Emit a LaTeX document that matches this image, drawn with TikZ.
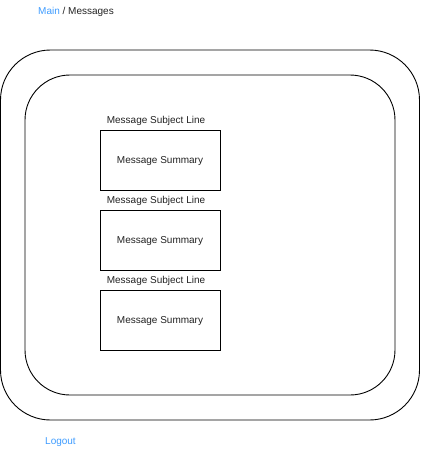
\documentclass[tikz,border=0pt]{standalone}
\usepackage{fontspec}
\setmainfont{Liberation Sans}
\usetikzlibrary{positioning}
\definecolor{linkblue}{HTML}{3D9BFF}
\definecolor{textgray}{HTML}{222222}

\begin{document}
\begin{tikzpicture}[x=1pt,y=-1pt,
   font=\fontsize{10}{12}\selectfont,
   frame/.style={draw,line width=0.9pt,rounded corners=#1,inner sep=0pt},
   msgbox/.style={draw,line width=0.9pt,minimum width=120pt,minimum height=60pt,inner sep=0pt,text=textgray},
   subject/.style={text=textgray,inner sep=0pt},
   link/.style={text=linkblue,inner sep=0pt}]

\useasboundingbox (0,0) rectangle (421,451);

\node[frame=50pt,minimum width=419pt,minimum height=370pt] (outer) at (210,235) {};
\node[frame=45pt,minimum width=370pt,minimum height=320pt] (inner) at (210,235) {};

\node[anchor=west,inner sep=0pt] (crumb) at (38,12) {\textcolor{linkblue}{Main} \textcolor{textgray}{/ Messages}};
\node[link,anchor=west] (logout) at (45,442) {Logout};

\foreach \i/\y in {1/160,2/240,3/320}{
   \node[msgbox] (msg\i) at (160,\y) {};
   \node[text=textgray,inner sep=0pt] (sum\i) at (160,\y+1) {Message Summary};
   \node[subject] (subj\i) at (156,\y-39) {Message Subject Line};
}

\end{tikzpicture}
\end{document}
